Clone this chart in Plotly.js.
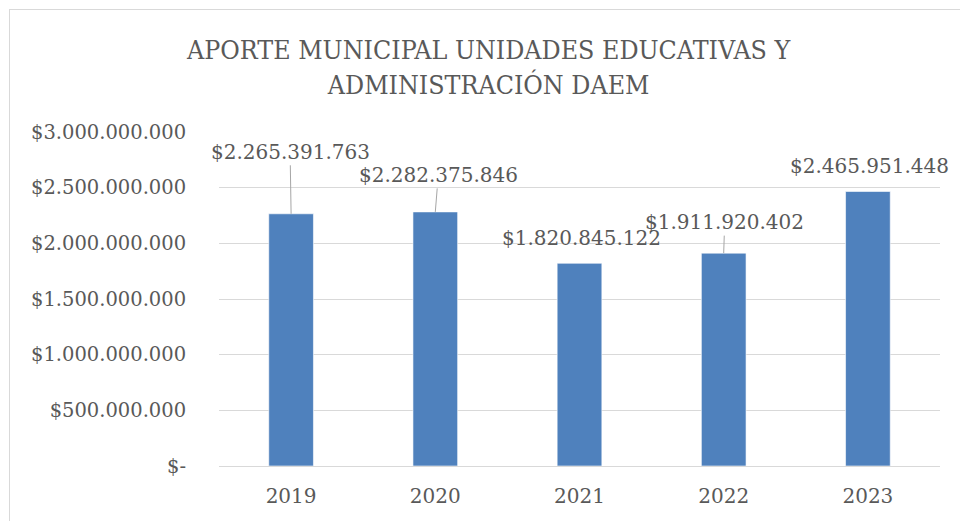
<!DOCTYPE html>
<html>
<head>
<meta charset="utf-8">
<script src="https://cdn.plot.ly/plotly-3.0.1.min.js"></script>
<style>
  html, body { margin: 0; padding: 0; overflow: hidden; background: #fff; }
  #chart { width: 960px; height: 521px; }
  #frame { position: absolute; left: 9px; top: 9px; width: 1000px; height: 1000px;
           border: 1px solid #d9d9d9; pointer-events: none; }
</style>
</head>
<body>
<div id="chart"></div>
<div id="frame"></div>
<script>
const categories = ["2019", "2020", "2021", "2022", "2023"];
const values = [2265391763, 2282375846, 1820845122, 1911920402, 2465951448];
const tickValues = [0, 500000000, 1000000000, 1500000000, 2000000000, 2500000000, 3000000000];
const titleText = "APORTE MUNICIPAL UNIDADES EDUCATIVAS Y<br>ADMINISTRACIÓN DAEM";

function money(v) {
  if (v === 0) return "$-";
  return "$" + String(Math.round(v)).replace(/\B(?=(\d{3})+(?!\d))/g, ".");
}

const TITLE_FONT = '"DejaVu Serif Condensed", "DejaVu Serif", serif';
const FONT = '"DejaVu Serif", serif';
const GREY = "#595959";
const idx = categories.map((c, i) => i);

// label placement (pixel offsets of each label relative to its bar top)
const labelOffsets = [
  { ax: -1, ay: -62, leader: true },
  { ax: 3, ay: -37, leader: true },
  { ax: 2, ay: -25, leader: false },
  { ax: 1, ay: -31, leader: true },
  { ax: 2, ay: -25, leader: false }
];

const annotations = idx.map(i => {
  const o = labelOffsets[i];
  const base = {
    x: i, y: values[i], xref: "x", yref: "y",
    text: money(values[i]),
    font: { family: FONT, size: 20, color: GREY }
  };
  if (o.leader) {
    return Object.assign(base, {
      showarrow: true, arrowhead: 0, arrowwidth: 1, arrowcolor: "#a6a6a6",
      ax: o.ax, ay: o.ay, standoff: 0
    });
  }
  return Object.assign(base, { showarrow: false, xshift: o.ax, yshift: -o.ay });
});

const trace = {
  type: "bar",
  x: idx,
  y: values,
  marker: { color: "#4f81bd", line: { color: "#ffffff", width: 0.6 } },
  width: 0.31,
  hoverinfo: "skip"
};

const layout = {
  width: 960, height: 521,
  margin: { l: 219, r: 20, t: 132, b: 55 },
  paper_bgcolor: "#ffffff", plot_bgcolor: "#ffffff",
  showlegend: false,
  title: {
    text: titleText,
    font: { family: TITLE_FONT, size: 26.5, color: GREY },
    x: 0.509, xanchor: "center", y: 0.886, yanchor: "middle"
  },
  xaxis: {
    type: "linear",
    range: [-0.5, categories.length - 0.5],
    tickvals: idx,
    ticktext: categories,
    tickfont: { family: FONT, size: 20, color: GREY },
    showgrid: false, showline: false, zeroline: false,
    ticks: "outside", ticklen: 12, tickcolor: "rgba(0,0,0,0)"
  },
  yaxis: {
    range: [0, 3000000000],
    tickvals: tickValues,
    ticktext: tickValues.map(money),
    tickfont: { family: FONT, size: 19.5, color: GREY },
    showgrid: true, gridcolor: "#d9d9d9", gridwidth: 1,
    zeroline: true, zerolinecolor: "#d9d9d9", zerolinewidth: 1,
    showline: false,
    ticks: "outside", ticklen: 28, tickcolor: "rgba(0,0,0,0)"
  },
  annotations: annotations
};

Plotly.newPlot("chart", [trace], layout, { displayModeBar: false, staticPlot: true });
</script>
</body>
</html>
